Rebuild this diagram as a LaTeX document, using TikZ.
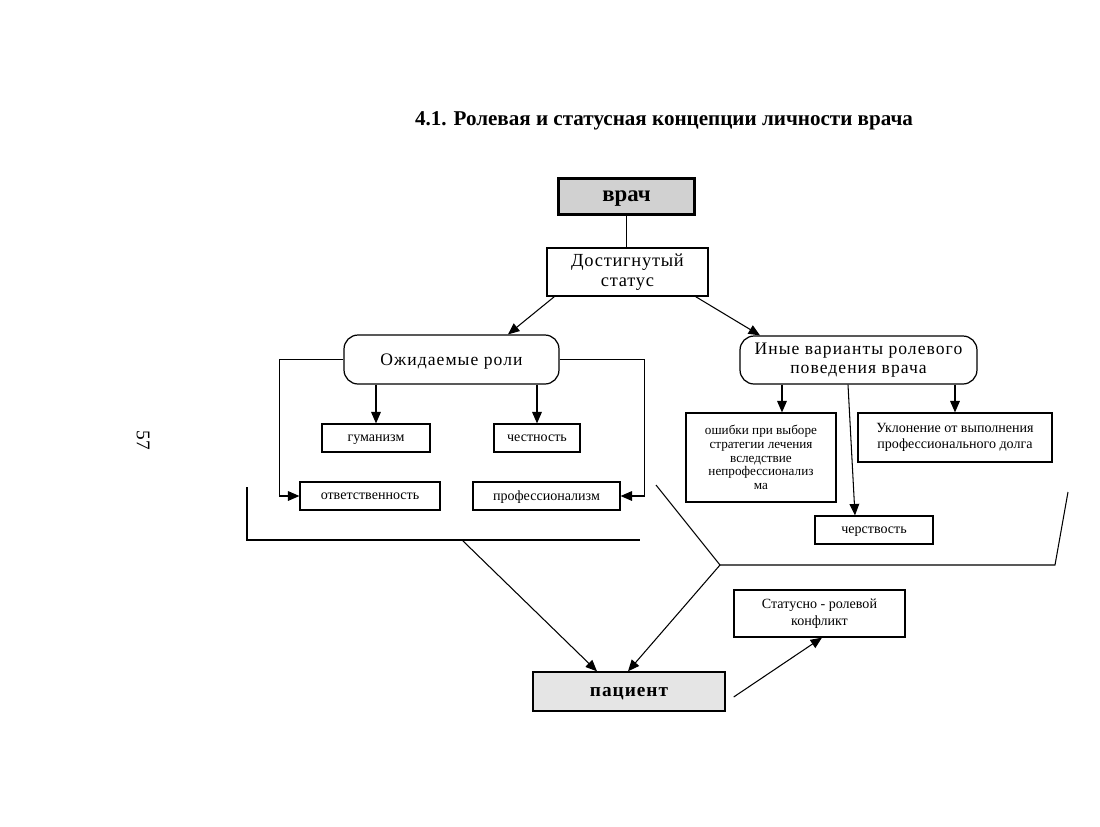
\documentclass[tikz,border=0pt]{standalone}
\usepackage{fontspec}
\setmainfont{Liberation Serif}
\usepackage{tikz}
\usetikzlibrary{positioning}
\usetikzlibrary{arrows.meta}
\usetikzlibrary{calc}

\begin{document}
\begin{tikzpicture}[
  x=0.02cm, y=-0.02cm,
  font=\fontsize{8}{9.5}\selectfont,
  box/.style={draw, line width=0.7pt, align=center, inner sep=1pt},
  oneline/.style={text depth=0pt},
  roundbox/.style={draw, line width=0.7pt, rounded corners=8pt, align=center, inner sep=1pt, font=\fontsize{10}{10.5}\selectfont\addfontfeature{LetterSpace=6}},
  mainbox/.style={draw, align=center, inner sep=1pt, text depth=0pt, font=\bfseries\fontsize{12}{13}\selectfont},
  arrow/.style={-{Triangle[length=6.5pt,width=5.5pt]}, line width=0.6pt},
  plain/.style={line width=0.6pt}
]
\useasboundingbox (0,0) rectangle (1100,826);

% Title and page number
\node[font=\bfseries\fontsize{12}{13}\selectfont] (title) at (664,121) {4.1. Ролевая и статусная концепции личности врача};
\node[font=\fontsize{11}{12}\selectfont, rotate=-90] (page) at (143,440) {57};

% Top: doctor and status
\node[mainbox, line width=2pt, fill=black!18, minimum width=2.72cm, minimum height=0.72cm, font=\bfseries\fontsize{13}{14}\selectfont] (doc) at (626.5,196.5) {врач};
\node[box, minimum width=3.22cm, minimum height=0.96cm, font=\fontsize{10.5}{11.5}\selectfont\addfontfeature{LetterSpace=4}] (status) at (627.5,272) {Достигнутый\\статус};

% Second level
\node[roundbox, oneline, minimum width=4.3cm, minimum height=0.98cm] (expect) at (451.5,359.5) {Ожидаемые роли};
\node[roundbox, minimum width=4.74cm, minimum height=0.96cm] (other) at (858.5,360) {Иные варианты ролевого\\поведения врача};

% Expected roles
\node[box, oneline, minimum width=2.16cm, minimum height=0.56cm] (hum) at (376,438) {гуманизм};
\node[box, oneline, minimum width=1.72cm, minimum height=0.56cm] (honest) at (537,438) {честность};
\node[box, oneline, minimum width=2.8cm, minimum height=0.56cm] (resp) at (370,496) {ответственность};
\node[box, oneline, minimum width=2.94cm, minimum height=0.56cm] (prof) at (546.5,496) {профессионализм};

% Other behaviour
\node[box, minimum width=3.0cm, minimum height=1.78cm, font=\fontsize{7.5}{7.8}\selectfont] (err) at (761,457.5) {ошибки при выборе\\стратегии лечения\\вследствие\\непрофессионализ\\ма};
\node[box, minimum width=3.88cm, minimum height=0.98cm] (evade) at (955,437.5) {Уклонение от выполнения\\профессионального долга};
\node[box, oneline, minimum width=2.36cm, minimum height=0.56cm] (callous) at (874,530) {черствость};

% Bottom: conflict and patient
\node[box, minimum width=3.42cm, minimum height=0.94cm] (conflict) at (819.5,613.5) {Статусно - ролевой\\конфликт};
\node[mainbox, line width=0.8pt, fill=black!10, minimum width=3.84cm, minimum height=0.78cm, font=\bfseries\fontsize{11}{12}\selectfont\addfontfeature{LetterSpace=5}] (patient) at (629,691.5) {пациент};

% Connectors from the top
\draw[plain] (doc.south) -- (doc.south |- status.north);
\draw[arrow] ([xshift=0.16cm]status.south west) -- ([xshift=1.13cm]expect.north);
\draw[arrow] ([xshift=-0.26cm]status.south east) -- ([xshift=-1.97cm]other.north);

% Expected roles arrows
\draw[arrow] (expect.south -| hum.north) -- (hum.north);
\draw[arrow] (expect.south -| honest.north) -- (honest.north);
\draw[arrow] (expect.west) -- ++(-64,0) |- (resp.west);
\draw[arrow] (expect.east) -- ++(85,0) |- (prof.east);

% Other behaviour arrows
\draw[arrow] ([xshift=0.42cm]err.north |- other.south) -- ([xshift=0.42cm]err.north);
\draw[arrow] (other.south -| evade.north) -- (evade.north);
\draw[arrow] ([xshift=-0.21cm]other.south) -- ([xshift=-0.38cm]callous.north);

% Brackets
\coordinate (ltop) at (247,487);
\coordinate (lcorner) at (247,540);
\coordinate (lend) at (640,540);
\coordinate (lstart) at (462,540);
\draw[plain] (ltop) -- (lcorner) -- (lend);

\coordinate (rtop) at (656,485);
\coordinate (rcorner) at (720,565);
\coordinate (rend) at (1055,565);
\coordinate (rup) at (1068,492);
\draw[plain] (rtop) -- (rcorner) -- (rend) -- (rup);

% Into the patient
\draw[arrow] (lstart) -- ([xshift=-0.64cm]patient.north);
\draw[arrow] (rcorner) -- ([xshift=-0.02cm]patient.north);
\draw[arrow] ([xshift=0.16cm,yshift=-0.11cm]patient.east) -- ([xshift=0.05cm]conflict.south);

\end{tikzpicture}
\end{document}
